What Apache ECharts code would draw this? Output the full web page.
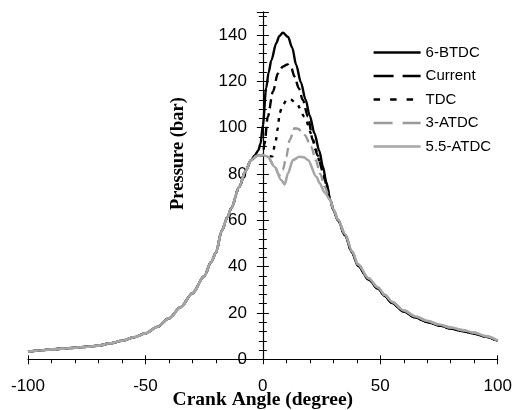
<!DOCTYPE html>
<html><head><meta charset="utf-8">
<script src="https://cdn.jsdelivr.net/npm/echarts@6/dist/echarts.min.js"></script>
<style>html,body{margin:0;padding:0;background:#fff}#c{width:512px;height:410px}</style>
</head><body><div id="c"></div>
<script>
const seriesNames = ['6-BTDC', 'Current', 'TDC', '3-ATDC', '5.5-ATDC'];
const xTickValues = [-100, -50, 0, 50, 100];
const yTickValues = [0, 20, 40, 60, 80, 100, 120, 140];

// shared compression stroke (crank angle, bar)
const compression = [[-100,3.3],[-95,3.8],[-90,4.3],[-85,4.6],[-80,5.0],[-75,5.4],[-70,5.9],[-65,6.9],[-60,8.0],[-55,9.5],[-50,11.2],[-45,14.0],[-40,17.7],[-35,22.5],[-30,28.5],[-25,35.8],[-22,42],[-20,46],[-17.5,55.5],[-15,61.5],[-13.5,65.2],[-10,74.5],[-7.5,81],[-5,86]];
const nearTdc = [[-2.5,87.8],[0,88.2]];

// combustion part of each case
const btdc6 = [[-3.5,88],[-2,90],[-1,93],[0,101],[1.4,117],[2.5,124],[3.6,129],[5.7,136.4],[7,139.5],[8.5,141],[10.7,139.2],[12.5,134.5],[14.2,127],[16.2,119.5],[18.2,112],[20,105],[22,97.5],[24,90],[25.6,83.1],[27,76.5],[28.7,68.8]];
const current = [[0.7,93],[2.1,104.7],[4.3,115.5],[6.4,123.4],[8.5,126.3],[10.5,127.3],[12,126],[13.5,122],[15.3,117],[17,111.9],[19.2,104.7],[21.3,94.5],[23.3,88],[25.6,81],[27.2,75],[28.7,68.8]];
const tdc = [[2,87.8],[4,87.6],[5.4,93.9],[6.4,99.7],[7.1,106.2],[8.5,110],[10.5,112.3],[12,112],[14.2,110.5],[17.8,104.7],[20.6,97.5],[22.5,90.5],[24.5,84.5],[26.5,77.5],[28.7,68.8]];
const atdc3 = [[2.1,87.4],[5,83.1],[7,79.5],[8.5,81.7],[10,87.4],[11.4,94.6],[13.5,99.7],[15,99.5],[17.8,96.8],[20.6,91.8],[22.5,86],[24.5,80],[26.3,74.5],[28.7,68.8]];
const atdc55 = [[2.1,87.4],[5,83.1],[7.8,77.4],[9.3,75.5],[10.7,80.3],[12.8,86],[15.6,87.4],[17.5,87.2],[19.2,86],[22.8,78.8],[24.2,76],[26.3,72],[28.7,68.8]];

// expansion stroke
const expansionBlack = [[30,64.5],[32,60],[35,53.5],[38,46],[40.5,40.5],[45,34.5],[49,30.5],[52,27.3],[55,24.3],[60,20.6],[65,18],[70,16.1],[75,14.6],[80,13.3],[85,12.2],[90,11.1],[95,9.7],[100,7.9]];
const expansionGray = [[30,64.8],[32,60.3],[35,54],[38,46.6],[40.5,41],[45,35],[49,31],[52,27.8],[55,24.8],[60,21.1],[65,18.5],[70,16.6],[75,15],[80,13.7],[85,12.6],[90,11.5],[95,10],[100,8.1]];

const seriesData = [
  compression.concat(btdc6, expansionBlack),
  compression.concat(nearTdc, current, expansionBlack),
  compression.concat(nearTdc, tdc, expansionBlack),
  compression.concat(nearTdc, atdc3, expansionGray),
  compression.concat(nearTdc, atdc55, expansionGray)
];
const colors = ['#000000', '#000000', '#000000', '#999999', '#a6a6a6'];
const dashes = ['solid', [9, 5], [3.5, 6], [9, 5], 'solid'];
const legendDashes = ['solid', [20, 9], [6.5, 10], [19, 10], 'solid'];
const widths = [2.4, 2.4, 2.4, 2.4, 2.6];

const GRID_LEFT = 28, GRID_RIGHT = 14.3;
const plotW = 512 - GRID_LEFT - GRID_RIGHT;
const zeroShift = plotW / 2;   // x = 0 sits at the middle of [-100, 100]

const chart = echarts.init(document.getElementById('c'), null, {renderer: 'canvas'});
const tickFont = {fontSize: 17, fontFamily: 'Liberation Sans, Arial', color: '#000'};
const titleFont = {fontWeight: 'bold', fontFamily: 'Liberation Serif, Times New Roman', color: '#000'};

chart.setOption({
  animation: false,
  backgroundColor: '#fff',
  grid: {left: GRID_LEFT, right: GRID_RIGHT, top: 11.75, bottom: 50.7, outerBoundsMode: 'none'},
  legend: {
    orient: 'vertical', left: 372.3, top: 45, padding: 0,
    itemWidth: 47, itemHeight: 14, itemGap: 8.5,
    selectedMode: false,
    textStyle: {fontSize: 15, fontFamily: 'Liberation Sans, Arial', color: '#000'},
    itemStyle: {opacity: 0, color: 'rgba(0,0,0,0)', borderWidth: 0},
    data: seriesNames.map((n, i) => ({name: n, lineStyle: {width: widths[i], type: legendDashes[i], color: colors[i]}}))
  },
  xAxis: [{
    type: 'value', min: -100, max: 100, interval: 50, position: 'bottom',
    axisLine: {onZero: false, lineStyle: {color: '#000', width: 1.2}},
    axisTick: {show: true, length: 5, lineStyle: {color: '#000', width: 1}},
    minorTick: {show: true, splitNumber: 5, length: 4, lineStyle: {color: '#000', width: 1}},
    axisLabel: Object.assign({margin: 19, customValues: xTickValues}, tickFont),
    splitLine: {show: false}, minorSplitLine: {show: false},
    name: 'Crank Angle (degree)', nameLocation: 'middle', nameGap: 31, nameMoveOverlap: false,
    nameTextStyle: Object.assign({fontSize: 19.5}, titleFont)
  }, {
    type: 'value', min: -100, max: 100, interval: 50, position: 'bottom',
    axisLine: {onZero: false, show: false},
    axisTick: {show: true, inside: true, length: 4, lineStyle: {color: '#000', width: 1}},
    axisLabel: {show: false}, splitLine: {show: false}
  }],
  yAxis: [{
    type: 'value', min: 0, max: 150, interval: 20, position: 'left', offset: -zeroShift,
    axisLine: {onZero: false, lineStyle: {color: '#000', width: 1.2}},
    axisTick: {show: true, length: 6, lineStyle: {color: '#000', width: 1}},
    minorTick: {show: true, splitNumber: 5, length: 4, lineStyle: {color: '#000', width: 1}},
    axisLabel: Object.assign({margin: 16, customValues: yTickValues}, tickFont),
    splitLine: {show: false}, minorSplitLine: {show: false},
    name: 'Pressure (bar)', nameLocation: 'middle', nameGap: 75, nameMoveOverlap: false,
    nameTextStyle: Object.assign({fontSize: 18.5, padding: [0, 0, 0, 64]}, titleFont)
  }, {
    type: 'value', min: 0, max: 150, interval: 20, position: 'left', offset: -zeroShift,
    axisLine: {onZero: false, show: false},
    axisTick: {show: true, inside: true, length: 6, lineStyle: {color: '#000', width: 1}},
    minorTick: {show: true, splitNumber: 5, length: 4, lineStyle: {color: '#000', width: 1}},
    axisLabel: {show: false}, splitLine: {show: false}
  }],
  series: seriesNames.map((n, i) => ({
    name: n, type: 'line', data: seriesData[i], symbol: 'none',
    smooth: 0.3, smoothMonotone: 'x',
    lineStyle: {color: colors[i], width: widths[i], type: dashes[i]},
    itemStyle: {color: colors[i]}
  }))
});
</script></body></html>
